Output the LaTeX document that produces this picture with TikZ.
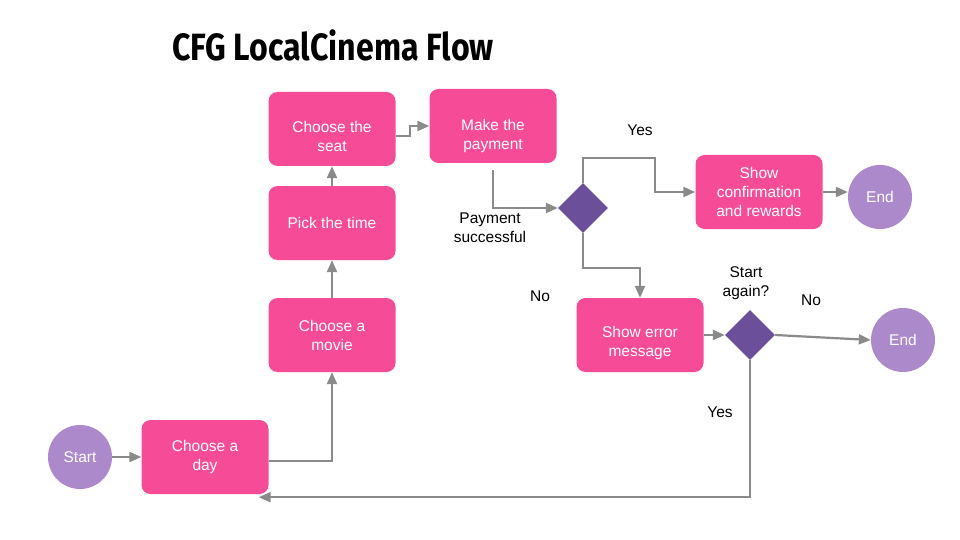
\documentclass[tikz,border=0pt]{standalone}
\usepackage{fontspec}
\setmainfont{Liberation Sans}
\newfontfamily\titlefont{Fira Sans}
\usetikzlibrary{shapes.geometric,arrows.meta}
\definecolor{boxpink}{HTML}{F64B96}
\definecolor{endpurple}{HTML}{AB89CB}
\definecolor{choicepurple}{HTML}{6B4F9B}
\definecolor{linegray}{HTML}{8A8A8A}

\begin{document}
\begin{tikzpicture}[x=1pt,y=-1pt,
        stepbox/.style={rectangle,rounded corners=9pt,fill=boxpink,text=white,minimum width=127pt,minimum height=74pt,align=center,font=\fontsize{15.5}{19}\selectfont},
        endpoint/.style={circle,fill=endpurple,text=white,minimum size=64pt,inner sep=0pt,font=\fontsize{15.5}{19}\selectfont},
        choice/.style={diamond,fill=choicepurple,minimum width=50pt,minimum height=50pt,inner sep=0pt},
        link/.style={draw=linegray,line width=2.2pt,-{Triangle[length=12pt,width=10pt]}},
        note/.style={align=center,font=\fontsize{15.5}{19}\selectfont}]
        \useasboundingbox (0,0) rectangle (960,540);
        \node[font=\titlefont\bfseries\fontsize{38}{44}\selectfont,xscale=0.845] (title) at (333,45) {CFG LocalCinema Flow};

        \node[endpoint] (start) at (80,457) {Start};
        \node[stepbox] (day) at (205,457) {Choose a\\day};
        \node[stepbox] (movie) at (332,335) {Choose a\\movie};
        \node[stepbox] (time) at (332,223) {Pick the time};
        \node[stepbox,text height=46pt] (seat) at (332,129) {Choose the\\seat};
        \node[stepbox,text height=51pt] (pay) at (493,126) {Make the\\payment};
        \node[choice] (check) at (583,208) {};
        \node[stepbox] (confirm) at (759,192) {Show\\confirmation\\and rewards};
        \node[endpoint] (endok) at (880,197) {End};
        \node[stepbox,text height=46pt] (error) at (640,335) {Show error\\message};
        \node[choice] (again) at (750,335) {};
        \node[endpoint] (endstop) at (903,340) {End};

        \draw[link] (start) -- (day);
        \draw[link] ([yshift=-4pt]day.east) -| (movie.south);
        \draw[link] (movie) -- (time);
        \draw[link] (time) -- (seat);
        \draw[link] ([yshift=-7pt]seat.east) -- ++(14,0) |- (pay.west);
        \draw[link] ([yshift=-7pt]pay.south) |- (check.west);
        \draw[link] (check.north) -- ++(0,-25) -| ([xshift=-40pt]confirm.west) -- (confirm.west);
        \draw[link] (confirm.east) -- (endok.west |- confirm.east);
        \draw[link] (check.south) -- ++(0,35) -| (error.north);
        \draw[link] (error) -- (again);
        \draw[link] (again.east) -- (endstop.west);
        \draw[link] (again.south) |- ([xshift=-10pt,yshift=-3pt]day.south east);

        \node[note] (yesok) at (640,130) {Yes};
        \node[note] (paid) at (490,228) {Payment\\successful};
        \node[note] (nopay) at (540,296) {No};
        \node[note] (ask) at (746,283) {Start\\again?};
        \node[note] (nostop) at (811,300) {No};
        \node[note] (yesagain) at (720,412) {Yes};
    \end{tikzpicture}
\end{document}
